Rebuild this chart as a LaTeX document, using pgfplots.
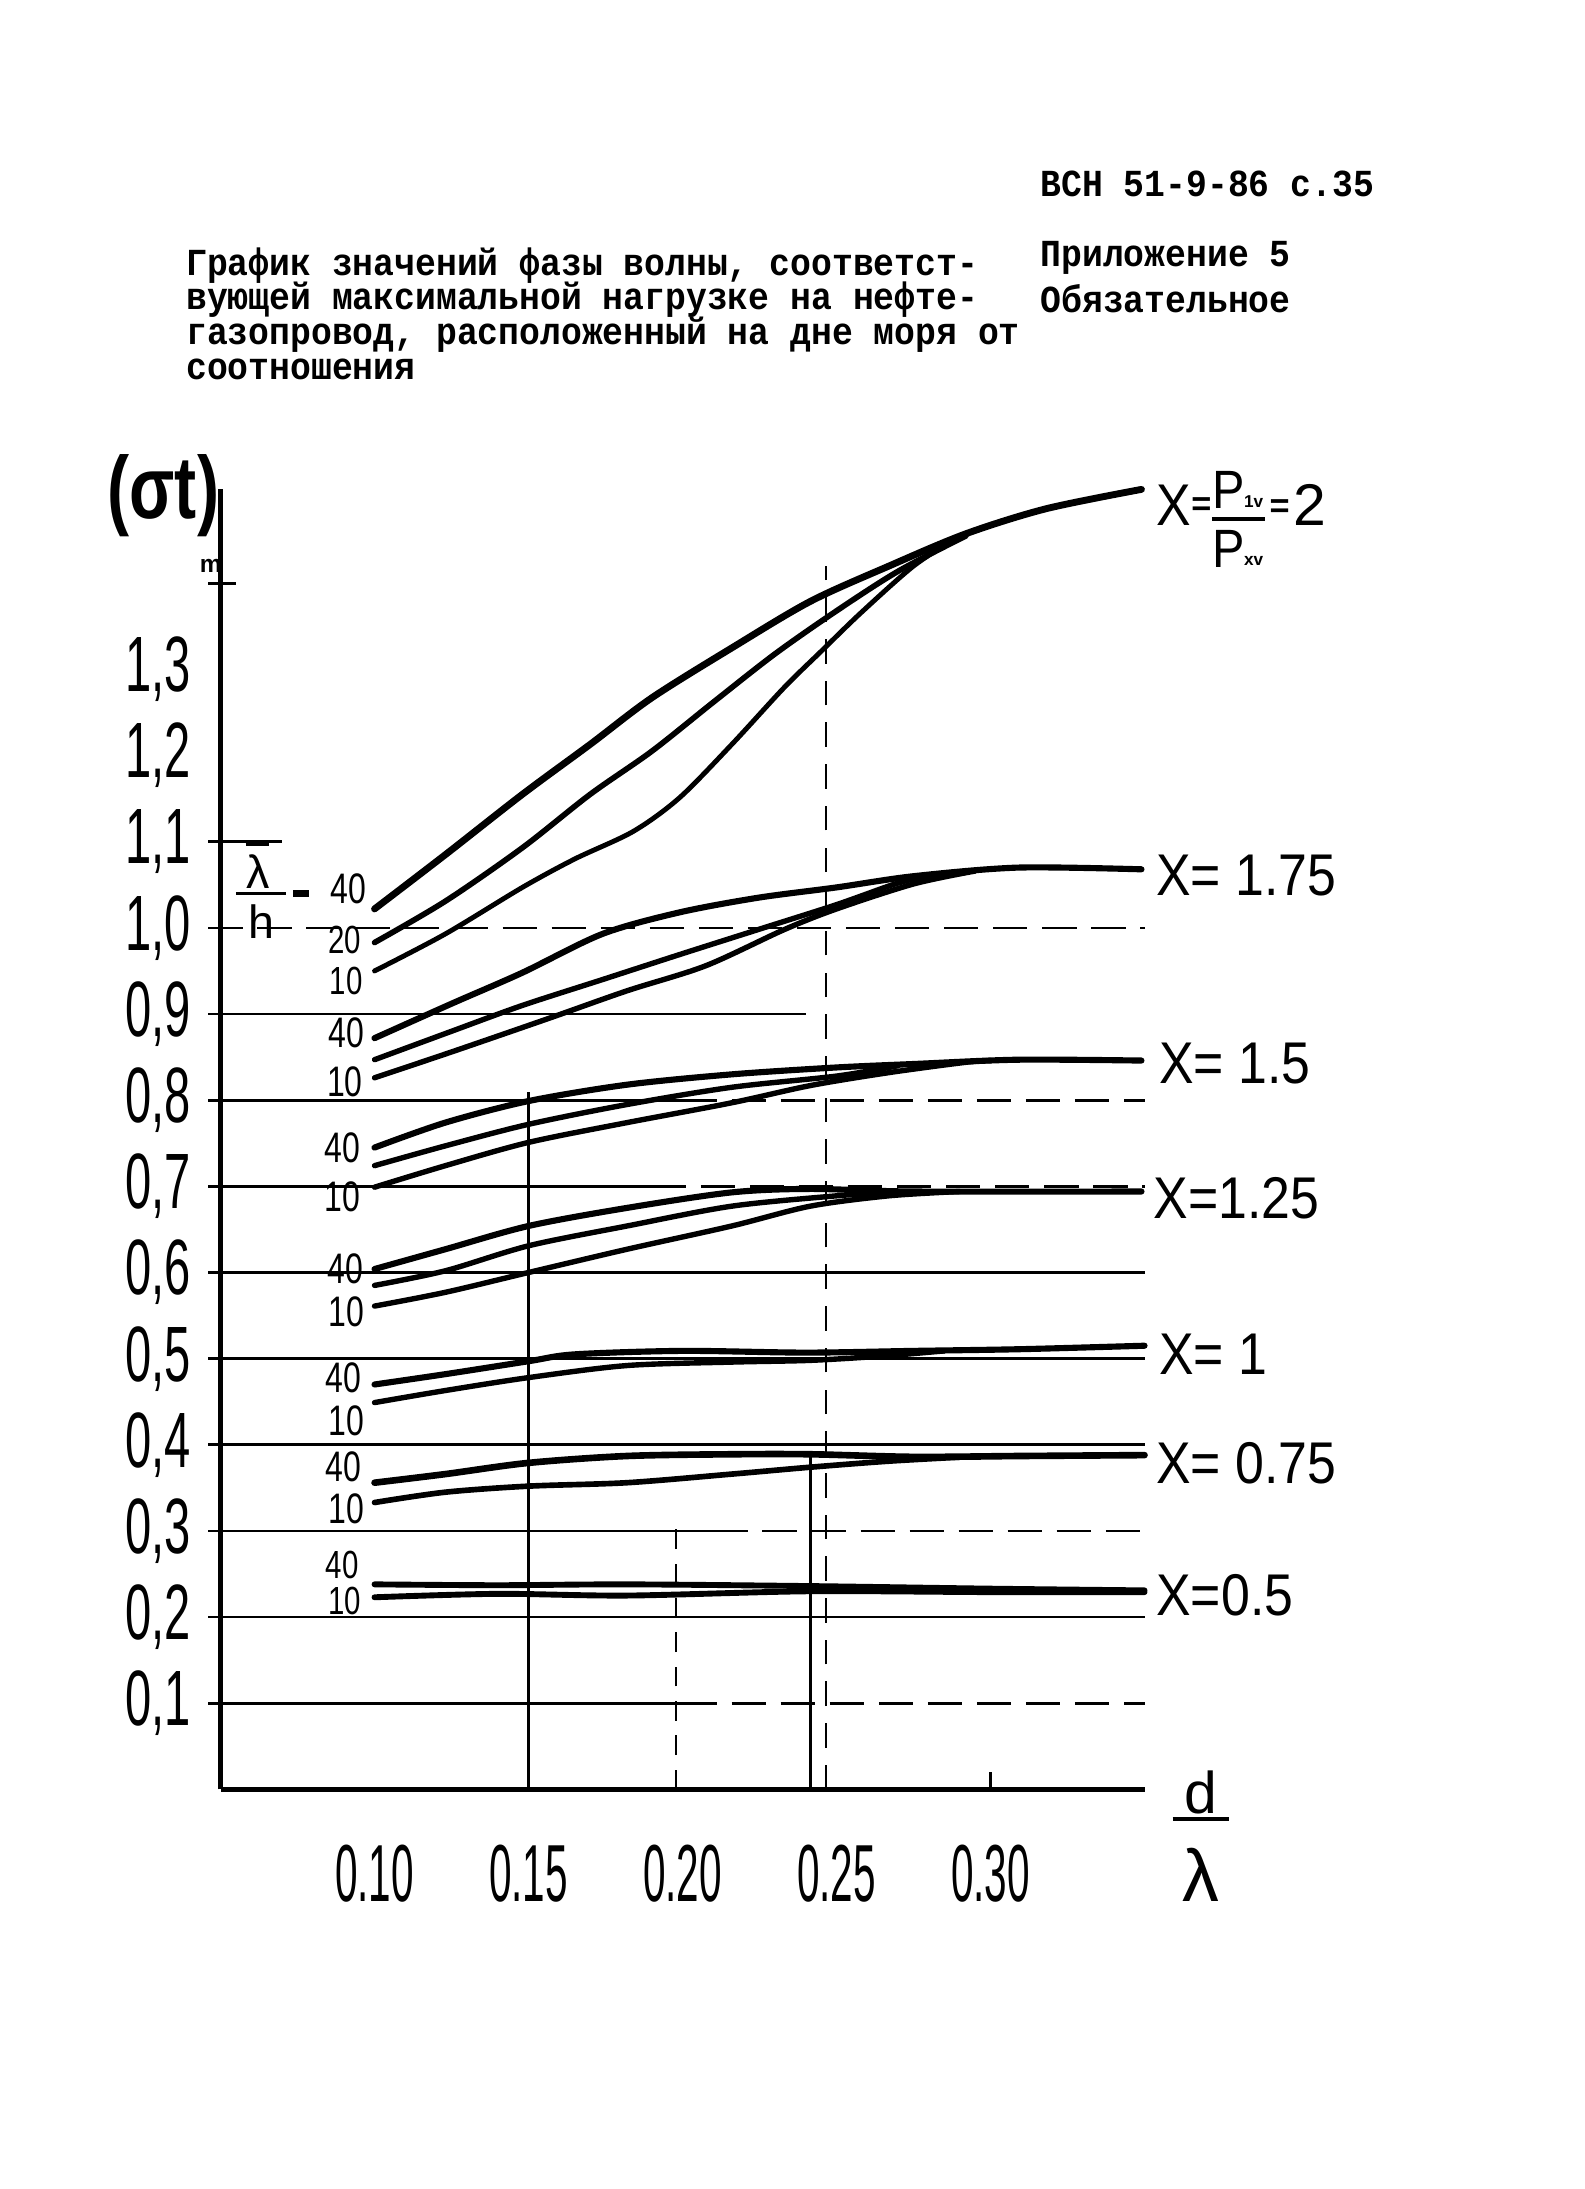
\documentclass[border=0pt]{standalone}
\usepackage{pgfplots}
\pgfplotsset{compat=1.18}
\usepackage{fontspec}
\setmainfont{Liberation Sans}
\newfontfamily\mono{Liberation Mono}
\usepackage{graphicx}

\newcommand\tfont{\mono\bfseries\fontsize{14.16pt}{14pt}\selectfont}
\newcommand\tl[1]{\scalebox{1}[1.1]{#1}}
\newcommand\yl[1]{\scalebox{0.6}[1]{#1}}
\newcommand\xl[1]{\scalebox{0.5}[1]{#1}}
\newcommand\cl[1]{\scalebox{0.75}[1]{#1}}
\newcommand\xlab[1]{\scalebox{0.88}[1]{#1}}

\begin{document}
\begin{tikzpicture}[gline/.style={black, line width=1.1pt}, dgrid/.style={black, line width=1.1pt, dash pattern=on 14pt off 6pt}]
\begin{scope}[x=0.02cm,y=-0.02cm]
\path[use as bounding box] (0,0) rectangle (1135,1568);
% header
\node[anchor=base west, inner sep=0pt, font=\tfont] at (745,141) {\tl{ВСН 51-9-86 с.35}};
\node[anchor=base west, inner sep=0pt, font=\tfont] at (745,191) {\tl{Приложение 5}};
\node[anchor=base west, inner sep=0pt, font=\tfont] at (745,224) {\tl{Обязательное}};
\node[anchor=base west, inner sep=0pt, font=\tfont] at (133,197) {\tl{График значений фазы волны, соответст-}};
\node[anchor=base west, inner sep=0pt, font=\tfont] at (133,222) {\tl{вующей максимальной нагрузке на нефте-}};
\node[anchor=base west, inner sep=0pt, font=\tfont] at (133,247) {\tl{газопровод, расположенный на дне моря от}};
\node[anchor=base west, inner sep=0pt, font=\tfont] at (133,272) {\tl{соотношения}};
% y label
\node[inner sep=0pt, font=\bfseries\fontsize{36pt}{36pt}\selectfont] at (117,355) {\scalebox{0.75}[1]{(σt)}};
\node[inner sep=0pt, font=\bfseries\fontsize{10pt}{10pt}\selectfont] at (151,405) {m};
% x label
\node[inner sep=0pt, font=\fontsize{24pt}{24pt}\selectfont] at (860,1284) {d};
\draw[line width=0.06cm] (840,1303) -- (880,1303);
\node[inner sep=0pt, font=\fontsize{30pt}{30pt}\selectfont] at (860,1343) {λ};
% lambda/h
\node[inner sep=0pt, font=\fontsize{19pt}{19pt}\selectfont] at (185,624) {λ};
\draw[line width=0.05cm] (176,605) -- (193,605);
\draw[line width=0.05cm] (169,640) -- (205,640);
\node[inner sep=0pt, font=\fontsize{19pt}{19pt}\selectfont] at (187,660) {h};
\draw[line width=0.09cm] (210,640) -- (221,640);
% curve labels
\foreach \t/\px/\py in {40/249.5/637, 40/248/740, 10/247/775,
  40/245/822, 10/245/857, 40/247.5/909, 10/248/940, 40/246/987, 10/248/1018,
  40/246/1051, 10/248/1081}
  \node[inner sep=0pt, font=\fontsize{17.4pt}{17.4pt}\selectfont] at (\px,\py) {\cl{\t}};
\node[inner sep=0pt, font=\fontsize{16pt}{16pt}\selectfont] at (247,673) {\cl{20}};
\node[inner sep=0pt, font=\fontsize{16pt}{16pt}\selectfont] at (248,703) {\cl{10}};
\node[inner sep=0pt, font=\fontsize{16pt}{16pt}\selectfont] at (245,1121) {\cl{40}};
\node[inner sep=0pt, font=\fontsize{16pt}{16pt}\selectfont] at (247,1147) {\cl{10}};
% right labels
\node[anchor=west, inner sep=0pt, font=\fontsize{24pt}{24pt}\selectfont] at (828,362) {\xlab{X}};
\node[anchor=west, inner sep=0pt, font=\bfseries\fontsize{14pt}{14pt}\selectfont] at (853,363) {=};
\node[inner sep=0pt, font=\fontsize{22pt}{22pt}\selectfont] at (880,351) {\scalebox{0.9}[1]{P}};
\node[inner sep=0pt, font=\bfseries\fontsize{7pt}{7pt}\selectfont] at (898,359) {1v};
\draw[line width=0.06cm] (868,372) -- (906,372);
\node[inner sep=0pt, font=\fontsize{22pt}{22pt}\selectfont] at (880,393) {\scalebox{0.9}[1]{P}};
\node[inner sep=0pt, font=\bfseries\fontsize{7pt}{7pt}\selectfont] at (898,402) {xv};
\node[anchor=west, inner sep=0pt, font=\bfseries\fontsize{14pt}{14pt}\selectfont] at (909,364) {=};
\node[anchor=west, inner sep=0pt, font=\fontsize{24pt}{24pt}\selectfont] at (926,362) {2};
\node[anchor=west, inner sep=0pt, font=\fontsize{24pt}{24pt}\selectfont] at (828,627) {\xlab{X= 1.75}};
\node[anchor=west, inner sep=0pt, font=\fontsize{24pt}{24pt}\selectfont] at (830,762) {\xlab{X= 1.5}};
\node[anchor=west, inner sep=0pt, font=\fontsize{24pt}{24pt}\selectfont] at (826,858) {\xlab{X=1.25}};
\node[anchor=west, inner sep=0pt, font=\fontsize{24pt}{24pt}\selectfont] at (830,970) {\xlab{X= 1}};
\node[anchor=west, inner sep=0pt, font=\fontsize{24pt}{24pt}\selectfont] at (828,1048) {\xlab{X= 0.75}};
\node[anchor=west, inner sep=0pt, font=\fontsize{24pt}{24pt}\selectfont] at (828,1143) {\xlab{X=0.5}};
\end{scope}

\begin{axis}[
  at={(3.16cm,-25.64cm)}, anchor=south west,
  width=13.24cm, height=18.64cm, scale only axis,
  xmin=0.05, xmax=0.35, ymin=0, ymax=1.51,
  axis lines=left, axis line style={-, line width=2pt},
  clip=false,
  tick style={draw=none},
  xtick={0.10,0.15,0.20,0.25,0.30},
  xticklabels={\xl{0.10},\xl{0.15},\xl{0.20},\xl{0.25},\xl{0.30}},
  ytick={0.1,0.2,0.3,0.4,0.5,0.6,0.7,0.8,0.9,1.0,1.1,1.2,1.3},
  yticklabels={\yl{0,1},\yl{0,2},\yl{0,3},\yl{0,4},\yl{0,5},\yl{0,6},\yl{0,7},\yl{0,8},\yl{0,9},\yl{1,0},\yl{1,1},\yl{1,2},\yl{1,3}},
  yticklabel style={font=\fontsize{32pt}{32pt}\selectfont, inner sep=0pt, anchor=east, xshift=-0.34cm},
  xticklabel style={font=\fontsize{33pt}{33pt}\selectfont, inner sep=0pt, anchor=north, yshift=-0.72cm},
  every axis plot/.append style={black, smooth, tension=0.5, line cap=round},
]
% grid lines
\draw[gline] (0.046,0.1) -- (0.20,0.1);
\draw[dgrid] (0.20,0.1) -- (0.35,0.1);
\draw[gline] (0.046,0.2) -- (0.35,0.2);
\draw[gline] (0.046,0.3) -- (0.21,0.3);
\draw[dgrid] (0.21,0.3) -- (0.35,0.3);
\draw[gline] (0.046,0.4) -- (0.35,0.4);
\draw[gline] (0.046,0.5) -- (0.35,0.5);
\draw[gline] (0.046,0.6) -- (0.35,0.6);
\draw[gline] (0.046,0.7) -- (0.19,0.7);
\draw[dgrid] (0.19,0.7) -- (0.35,0.7);
\draw[gline] (0.046,0.8) -- (0.20,0.8);
\draw[dgrid] (0.20,0.8) -- (0.35,0.8);
\draw[gline] (0.046,0.9) -- (0.24,0.9);
\draw[dgrid] (0.046,1.0) -- (0.35,1.0);
\draw[gline] (0.046,1.1) -- (0.07,1.1);
\draw[gline] (0.046,1.4) -- (0.055,1.4);
% vertical lines
\draw[black, line width=1pt] (0.15,0) -- (0.15,0.81);
\draw[black, line width=1pt] (0.2415,0) -- (0.2415,0.39);
\draw[black, line width=0.8pt, dash pattern=on 10pt off 7pt] (0.2465,0) -- (0.2465,1.42);
\draw[black, line width=0.8pt, dash pattern=on 8pt off 6pt] (0.198,0) -- (0.198,0.31);
\draw[black, line width=1pt] (0.30,0) -- (0.30,0.02);

% X = 2
\addplot[line width=2.8pt] coordinates {(0.100,1.022) (0.123,1.085) (0.148,1.155) (0.170,1.213) (0.190,1.267) (0.216,1.325) (0.2415,1.379) (0.267,1.420) (0.292,1.4575) (0.318,1.4865) (0.349,1.509)};
\addplot[line width=2.3pt] coordinates {(0.100,0.983) (0.123,1.031) (0.148,1.093) (0.170,1.155) (0.190,1.205) (0.210,1.262) (0.230,1.318) (0.250,1.368) (0.270,1.414) (0.292,1.455)};
\addplot[line width=2.0pt] coordinates {(0.100,0.950) (0.123,0.993) (0.148,1.047) (0.165,1.080) (0.184,1.112) (0.199,1.151) (0.216,1.213) (0.233,1.279) (0.245,1.321) (0.258,1.366) (0.275,1.420) (0.289,1.453)};
% X = 1.75
\addplot[line width=2.5pt] coordinates {(0.100,0.872) (0.125,0.912) (0.148,0.948) (0.174,0.993) (0.199,1.018) (0.2245,1.035) (0.250,1.047) (0.275,1.060) (0.309,1.070) (0.349,1.068)};
\addplot[line width=2.2pt] coordinates {(0.100,0.847) (0.125,0.880) (0.148,0.910) (0.174,0.940) (0.199,0.969) (0.2245,0.998) (0.250,1.027) (0.269,1.051) (0.280,1.061)};
\addplot[line width=2.2pt] coordinates {(0.100,0.826) (0.125,0.856) (0.1566,0.895) (0.182,0.927) (0.2075,0.956) (0.233,0.998) (0.250,1.022) (0.275,1.051) (0.295,1.066)};
% X = 1.5
\addplot[line width=2.5pt] coordinates {(0.100,0.745) (0.123,0.774) (0.150,0.799) (0.182,0.818) (0.216,0.830) (0.250,0.838) (0.275,0.842) (0.309,0.847) (0.349,0.846)};
\addplot[line width=2.2pt] coordinates {(0.100,0.724) (0.123,0.747) (0.150,0.772) (0.182,0.795) (0.216,0.815) (0.250,0.828) (0.270,0.840)};
\addplot[line width=2.2pt] coordinates {(0.100,0.699) (0.123,0.724) (0.150,0.751) (0.182,0.774) (0.216,0.797) (0.2415,0.817) (0.267,0.832) (0.292,0.844) (0.300,0.846)};
% X = 1.25
\addplot[line width=2.5pt] coordinates {(0.100,0.604) (0.123,0.627) (0.150,0.654) (0.182,0.675) (0.216,0.693) (0.2415,0.697) (0.275,0.694) (0.349,0.694)};
\addplot[line width=2.2pt] coordinates {(0.100,0.585) (0.123,0.602) (0.150,0.631) (0.182,0.654) (0.216,0.677) (0.250,0.689) (0.267,0.693)};
\addplot[line width=2.2pt] coordinates {(0.100,0.561) (0.123,0.577) (0.150,0.600) (0.182,0.627) (0.216,0.654) (0.2415,0.677) (0.267,0.689) (0.290,0.694)};
% X = 1
\addplot[line width=2.5pt] coordinates {(0.100,0.470) (0.123,0.482) (0.150,0.497) (0.165,0.505) (0.200,0.509) (0.240,0.507) (0.275,0.509) (0.310,0.511) (0.350,0.515)};
\addplot[line width=2.2pt] coordinates {(0.100,0.449) (0.123,0.463) (0.150,0.478) (0.182,0.492) (0.216,0.496) (0.2415,0.498) (0.265,0.503) (0.285,0.509)};
% X = 0.75
\addplot[line width=2.7pt] coordinates {(0.100,0.356) (0.123,0.366) (0.150,0.379) (0.182,0.387) (0.216,0.389) (0.2415,0.389) (0.275,0.386) (0.310,0.387) (0.350,0.388)};
\addplot[line width=2.3pt] coordinates {(0.100,0.333) (0.123,0.345) (0.150,0.352) (0.182,0.356) (0.216,0.366) (0.2415,0.374) (0.267,0.381) (0.292,0.386)};
% X = 0.5
\addplot[line width=2.4pt] coordinates {(0.100,0.238) (0.140,0.237) (0.182,0.238) (0.2415,0.236) (0.300,0.233) (0.350,0.231)};
\addplot[line width=2.4pt] coordinates {(0.100,0.223) (0.140,0.227) (0.182,0.225) (0.2415,0.230) (0.300,0.229) (0.350,0.229)};
\end{axis}
\end{tikzpicture}
\end{document}
